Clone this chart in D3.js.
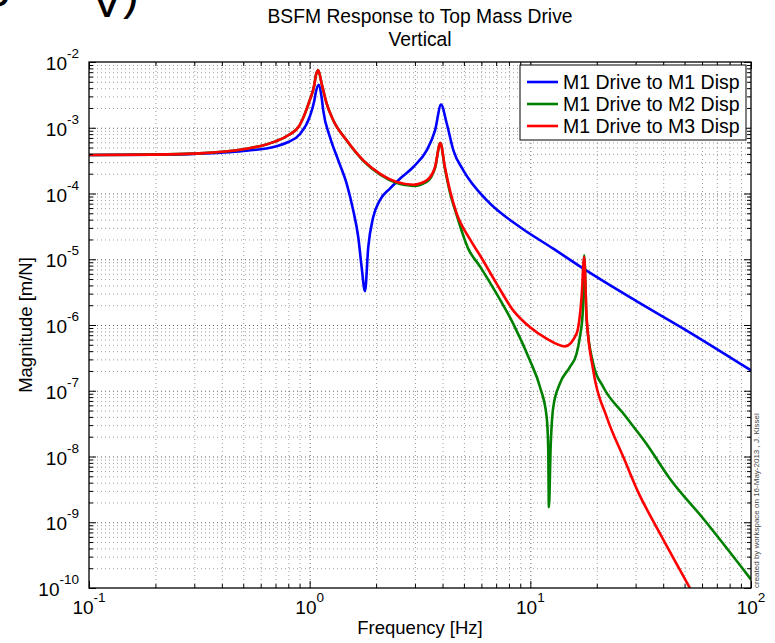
<!DOCTYPE html>
<html><head><meta charset="utf-8">
<script src="https://cdn.jsdelivr.net/npm/d3@7"></script>
<style>
body{margin:0;background:#fff}
svg{display:block}
text{font-family:"Liberation Sans",Arial,Helvetica,sans-serif;fill:#000}
</style>
</head><body>
<svg id="chart" width="775" height="643"></svg>
<script>
// ---------------- data ----------------
const titleLines = ["BSFM Response to Top Mass Drive", "Vertical"];
const xLabel = "Frequency [Hz]";
const yLabel = "Magnitude [m/N]";
const stamp = "created by workspace on 16-May-2013 , J. Kissel";
const seriesNames = ["M1 Drive to M1 Disp", "M1 Drive to M2 Disp", "M1 Drive to M3 Disp"];
const seriesColors = ["#0000ff", "#008000", "#ff0000"];

const xTickExponents = [-1, 0, 1, 2];
const yTickExponents = [-2, -3, -4, -5, -6, -7, -8, -9, -10];

// M1 Drive to M1 Disp (blue)
const freqM1 = [0.1, 0.2, 0.3, 0.5, 0.7, 0.8, 0.9, 1.0, 1.05, 1.067, 1.10, 1.133, 1.152, 1.236, 1.348, 1.471, 1.576, 1.66, 1.72, 1.781, 1.843, 1.941, 2.08, 2.31, 2.565, 2.95, 3.39, 3.70, 3.94, 4.18, 4.48, 4.97, 6.34, 8.97, 12.7, 17.4, 30, 50, 100];
const magM1 = [3.85e-4, 3.9e-4, 4.0e-4, 4.43e-4, 5.2e-4, 6.07e-4, 7.9e-4, 1.46e-3, 2.6e-3, 3.5e-3, 4.5e-3, 2.9e-3, 1.84e-3, 7.2e-4, 3.19e-4, 1.41e-4, 5.5e-5, 2.18e-5, 7.6e-6, 3.28e-6, 1.53e-5, 4.38e-5, 7.9e-5, 1.19e-4, 1.68e-4, 2.53e-4, 4.54e-4, 9.1e-4, 2.25e-3, 1.16e-3, 4.54e-4, 2.25e-4, 7.9e-5, 3.09e-5, 1.45e-5, 7.2e-6, 2.35e-6, 8.6e-7, 2.04e-7];

// M1 Drive to M2 Disp (green)
const freqM2 = [0.1, 0.2, 0.3, 0.5, 0.7, 0.8, 0.9, 1.0, 1.05, 1.067, 1.094, 1.133, 1.194, 1.279, 1.471, 1.75, 2.08, 2.48, 2.95, 3.39, 3.70, 3.91, 4.10, 4.32, 4.64, 5.23, 5.91, 7.03, 8.36, 9.95, 11.06, 11.86, 12.05, 12.14, 12.36, 12.70, 13.6, 15.1, 16.2, 16.77, 17.26, 17.54, 17.99, 19.28, 21.4, 26.4, 33.7, 42.9, 60.7, 100];
const magM2 = [3.85e-4, 3.9e-4, 4.04e-4, 4.7e-4, 6.2e-4, 7.7e-4, 1.09e-3, 2.6e-3, 4.5e-3, 6.3e-3, 7.5e-3, 4.7e-3, 2.33e-3, 1.30e-3, 6.4e-4, 3.15e-4, 1.95e-4, 1.44e-4, 1.30e-4, 1.50e-4, 2.45e-4, 5.86e-4, 2.4e-4, 1.05e-4, 4.66e-5, 1.45e-5, 7.8e-6, 3.0e-6, 1.05e-6, 2.9e-7, 1.14e-7, 3.98e-8, 1.39e-8, 1.7e-9, 1.39e-8, 5.6e-8, 1.28e-7, 2.29e-7, 3.66e-7, 6.55e-7, 1.49e-6, 1.15e-5, 1.18e-6, 2.58e-7, 1.14e-7, 4.5e-8, 1.54e-8, 4.6e-9, 1.14e-9, 1.35e-10];

// M1 Drive to M3 Disp (red)
const freqM3 = [0.1, 0.2, 0.3, 0.5, 0.7, 0.8, 0.9, 1.0, 1.05, 1.067, 1.094, 1.133, 1.194, 1.279, 1.471, 1.75, 2.08, 2.48, 2.95, 3.39, 3.70, 3.91, 4.10, 4.32, 4.64, 5.33, 5.91, 7.03, 8.36, 9.95, 11.85, 14.35, 16.2, 17.07, 17.54, 17.99, 19.28, 22.2, 26.4, 30.7, 38.0, 53.0, 60];
const magM3 = [3.85e-4, 3.9e-4, 4.04e-4, 4.7e-4, 6.2e-4, 7.7e-4, 1.09e-3, 2.6e-3, 4.5e-3, 6.3e-3, 7.5e-3, 4.7e-3, 2.33e-3, 1.30e-3, 6.44e-4, 3.19e-4, 2.0e-4, 1.49e-4, 1.36e-4, 1.58e-4, 2.53e-4, 5.86e-4, 2.53e-4, 1.12e-4, 4.94e-5, 2.0e-5, 1.15e-5, 4.26e-6, 1.67e-6, 9.3e-7, 6.2e-7, 4.73e-7, 7.4e-7, 2.66e-6, 1.08e-5, 1.32e-6, 2.04e-7, 3.98e-8, 9.8e-9, 2.95e-9, 7.5e-10, 9.8e-11, 4.5e-11];

// ---------------- layout ----------------
const W = 775, H = 643;
const M = {l: 89, r: 751, t: 62, b: 588};
const svg = d3.select("#chart");

const x = d3.scaleLog().domain([0.1, 100]).range([M.l, M.r]);
const y = d3.scaleLog().domain([1e-10, 1e-2]).range([M.b, M.t]);

const xAll = x.ticks();
const yAll = y.ticks();
const isDecade = v => Math.abs(Math.log10(v) - Math.round(Math.log10(v))) < 1e-9;
const xMajor = xAll.filter(isDecade), xMinor = xAll.filter(v => !isDecade(v));
const yMajor = yAll.filter(isDecade), yMinor = yAll.filter(v => !isDecade(v));

// stray text from the page above (cut off at the top edge)
svg.append("text").attr("x", -22).attr("y", 7).style("font-size", "48px").text("S");
svg.append("text").attr("x", 91).attr("y", 17).style("font-size", "48px").text("V");
svg.append("text").attr("x", 123).attr("y", 9).style("font-size", "48px").text(")");

// background of axes
svg.append("rect").attr("x", M.l).attr("y", M.t).attr("width", M.r - M.l).attr("height", M.b - M.t).attr("fill", "#fff");

// grid
const grid = svg.append("g");
function gridStyle(g, op) {
  g.select(".domain").remove();
  g.selectAll(".tick line").attr("stroke", "#000").attr("stroke-opacity", op).attr("stroke-dasharray", "1,3").attr("stroke-width", 1);
}
grid.append("g").attr("transform", `translate(0,${M.b})`)
  .call(d3.axisBottom(x).tickValues(xMinor).tickSize(-(M.b - M.t)).tickFormat(""))
  .call(g => gridStyle(g, 0.38));
grid.append("g").attr("transform", `translate(0,${M.b})`)
  .call(d3.axisBottom(x).tickValues(xMajor.filter(v => v > 0.1 && v < 100)).tickSize(-(M.b - M.t)).tickFormat(""))
  .call(g => gridStyle(g, 0.6));
grid.append("g").attr("transform", `translate(${M.l},0)`)
  .call(d3.axisLeft(y).tickValues(yMinor).tickSize(-(M.r - M.l)).tickFormat(""))
  .call(g => gridStyle(g, 0.38));
grid.append("g").attr("transform", `translate(${M.l},0)`)
  .call(d3.axisLeft(y).tickValues(yMajor.filter(v => v > 1e-10 && v < 1e-2)).tickSize(-(M.r - M.l)).tickFormat(""))
  .call(g => gridStyle(g, 0.6));

// curves
svg.append("clipPath").attr("id", "clip").append("rect")
  .attr("x", M.l).attr("y", M.t).attr("width", M.r - M.l).attr("height", M.b - M.t);
const line = d3.line().x(d => x(d[0])).y(d => y(d[1])).curve(d3.curveMonotoneX);
const series = [
  {f: freqM1, m: magM1},
  {f: freqM2, m: magM2},
  {f: freqM3, m: magM3}
];
const plot = svg.append("g").attr("clip-path", "url(#clip)");
series.forEach((s, i) => {
  plot.append("path")
    .datum(s.f.map((f, k) => [f, s.m[k]]))
    .attr("d", line)
    .attr("fill", "none")
    .attr("stroke", seriesColors[i])
    .attr("stroke-width", 2.6)
    .attr("stroke-linejoin", "round");
});

// ticks on all four sides (inward)
const tk = svg.append("g");
function tickStyle(g) {
  g.select(".domain").remove();
  g.selectAll(".tick line").attr("stroke", "#000").attr("stroke-width", 1);
}
const sides = [
  [d3.axisBottom(x), `translate(0,${M.b})`, xMinor, xMajor],
  [d3.axisTop(x), `translate(0,${M.t})`, xMinor, xMajor],
  [d3.axisLeft(y), `translate(${M.l},0)`, yMinor, yMajor],
  [d3.axisRight(y), `translate(${M.r},0)`, yMinor, yMajor]
];
sides.forEach(([ax, tr, mn, mj]) => {
  tk.append("g").attr("transform", tr).call(ax.tickValues(mn).tickSize(-4).tickFormat("")).call(tickStyle);
  tk.append("g").attr("transform", tr).call(ax.tickValues(mj).tickSize(-7).tickFormat("")).call(tickStyle);
});

// frame
svg.append("rect").attr("x", M.l).attr("y", M.t).attr("width", M.r - M.l).attr("height", M.b - M.t)
  .attr("fill", "none").attr("stroke", "#000").attr("stroke-width", 1.3);

// tick labels
xTickExponents.forEach(e => {
  const t = svg.append("text").attr("x", x(Math.pow(10, e))).attr("y", M.b + 26)
    .attr("text-anchor", "middle").style("font-size", "19px");
  t.append("tspan").text("10");
  t.append("tspan").attr("dy", -12).style("font-size", "13.5px").text(String(e));
});
yTickExponents.forEach(e => {
  const t = svg.append("text").attr("x", M.l - 10).attr("y", y(Math.pow(10, e)) + 8)
    .attr("text-anchor", "end").style("font-size", "19px");
  t.append("tspan").text("10");
  t.append("tspan").attr("dy", -12).style("font-size", "13.5px").text(String(e));
});

// titles and labels
titleLines.forEach((s, i) => {
  svg.append("text").attr("x", (M.l + M.r) / 2).attr("y", 23 + i * 23)
    .attr("text-anchor", "middle").style("font-size", "19.3px").text(s);
});
svg.append("text").attr("x", (M.l + M.r) / 2).attr("y", 634)
  .attr("text-anchor", "middle").style("font-size", "18.5px").text(xLabel);
svg.append("text").attr("transform", `translate(32,${(M.t + M.b) / 2}) rotate(-90)`)
  .attr("text-anchor", "middle").style("font-size", "18.5px").text(yLabel);

// stamp
svg.append("text").attr("transform", `translate(759,${M.b}) rotate(-90)`)
  .attr("text-anchor", "start").style("font-size", "8px").style("fill", "#444").text(stamp);

// legend
const lg = svg.append("g");
lg.append("rect").attr("x", 520).attr("y", 65).attr("width", 226).attr("height", 75)
  .attr("fill", "#fff").attr("stroke", "#000").attr("stroke-width", 1);
seriesNames.forEach((n, i) => {
  const yy = 82 + i * 22;
  lg.append("line").attr("x1", 527).attr("x2", 558).attr("y1", yy).attr("y2", yy)
    .attr("stroke", seriesColors[i]).attr("stroke-width", 2.6);
  lg.append("text").attr("x", 563).attr("y", yy + 6.5).style("font-size", "19.5px").text(n);
});
</script>
</body></html>
